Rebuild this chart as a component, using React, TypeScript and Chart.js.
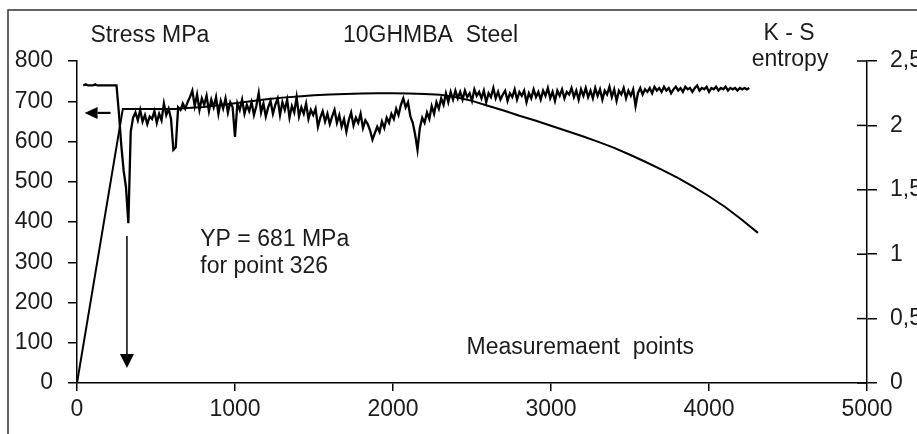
import React, { useEffect, useRef } from "react";
import { Chart, registerables } from "chart.js";

Chart.register(...registerables);

// ---- Data ----
// Stress curve (left axis, MPa) vs measurement point
const stressPoints = [0, 290, 620, 700, 800, 900, 1000, 1100, 1200, 1300, 1400, 1500, 1600, 1700, 1800, 1900, 2000, 2100, 2200, 2300, 2400, 2500, 2600, 2700, 2800, 2900, 3000, 3100, 3200, 3300, 3400, 3500, 3600, 3700, 3800, 3900, 4000, 4100, 4200, 4310];
const stressMPa = [0, 681, 681, 683, 686, 690, 695, 700, 705, 709, 712, 715, 717, 718, 719, 720, 720, 719, 718, 716, 710, 701, 689, 677, 664, 652, 639, 626, 613, 599, 584, 567, 549, 530, 510, 488, 464, 438, 408, 373];

// K-S entropy (right axis), sampled every 15 measurement points from point 40
const entropyStart = 40;
const entropyStep = 15;
const entropyValues = [
  2.31, 2.32, 2.31, 2.31, 2.31, 2.32, 2.31, 2.31, 2.31, 2.31,
  2.31, 2.31, 2.31, 2.31, 2.31, 2.10, 1.85, 1.65, 1.52, 1.24,
  1.95, 2.06, 2.10, 2.04, 2.12, 2.03, 2.08, 2.01, 2.07, 2.05,
  2.11, 2.02, 2.09, 2.04, 2.17, 2.08, 2.13, 2.05, 1.81, 1.83,
  2.14, 2.12, 2.17, 2.13, 2.18, 2.22, 2.27, 2.15, 2.24, 2.12,
  2.21, 2.16, 2.23, 2.11, 2.20, 2.14, 2.22, 2.09, 2.19, 2.13,
  2.21, 2.10, 2.18, 2.14, 1.91, 2.17, 2.12, 2.20, 2.09, 2.16,
  2.11, 2.18, 2.08, 2.15, 2.25, 2.10, 2.17, 2.07, 2.14, 2.19,
  2.09, 2.16, 2.21, 2.08, 2.18, 2.12, 2.20, 2.06, 2.15, 2.10,
  2.22, 2.07, 2.14, 2.09, 2.17, 2.05, 2.12, 2.08, 2.13, 1.99,
  2.06, 2.11, 2.03, 2.09, 2.01, 2.07, 2.12, 2.02, 2.08, 1.99,
  2.05, 1.95, 2.04, 2.10, 2.00, 2.06, 2.02, 2.09, 1.98, 2.04,
  2.01, 1.96, 1.89, 1.94, 1.99, 1.95, 2.03, 1.98, 2.06, 2.02,
  2.09, 2.05, 2.13, 2.08, 2.16, 2.21, 2.14, 2.18, 2.07, 2.02,
  1.93, 1.81, 1.98, 2.06, 2.02, 2.10, 2.05, 2.15, 2.09, 2.18,
  2.13, 2.21, 2.16, 2.25, 2.18, 2.26, 2.20, 2.27, 2.21, 2.26,
  2.20, 2.27, 2.22, 2.25, 2.19, 2.28, 2.23, 2.26, 2.21, 2.27,
  2.18, 2.25, 2.22, 2.29, 2.21, 2.26, 2.20, 2.24, 2.27, 2.19,
  2.25, 2.22, 2.28, 2.20, 2.26, 2.23, 2.27, 2.18, 2.25, 2.21,
  2.28, 2.22, 2.26, 2.20, 2.27, 2.23, 2.29, 2.21, 2.26, 2.19,
  2.27, 2.23, 2.28, 2.21, 2.26, 2.24, 2.29, 2.22, 2.27, 2.20,
  2.28, 2.23, 2.29, 2.22, 2.27, 2.21, 2.29, 2.23, 2.28, 2.20,
  2.27, 2.24, 2.30, 2.22, 2.28, 2.19, 2.27, 2.24, 2.29, 2.21,
  2.27, 2.23, 2.28, 2.15, 2.25, 2.29, 2.24, 2.28, 2.26, 2.29,
  2.25, 2.30, 2.27, 2.29, 2.26, 2.30, 2.27, 2.29, 2.25, 2.28,
  2.30, 2.27, 2.29, 2.26, 2.30, 2.28, 2.29, 2.26, 2.29, 2.31,
  2.27, 2.29, 2.28, 2.30, 2.26, 2.29, 2.28, 2.30, 2.27, 2.29,
  2.28, 2.30, 2.27, 2.29, 2.28, 2.29, 2.27, 2.29, 2.28, 2.29,
  2.28, 2.29,
];

// Axis ranges / ticks
const xMax = 5000;
const xStep = 1000;
const stressMax = 800;
const stressStep = 100;
const entropyMax = 2.5;
const entropyStepTick = 0.5;

// Annotation texts
const titleLeft = "Stress MPa";
const titleCenter = "10GHMBA  Steel";
const titleRight1 = "K - S";
const titleRight2 = "entropy";
const ypLine1 = "YP = 681 MPa";
const ypLine2 = "for point 326";
const xTitle = "Measuremaent  points";
const yieldPoint = 326;

const FONT = "'Liberation Sans', Arial, sans-serif";
const INK = "#1c1c1c";

export default function App() {
  const ref = useRef<HTMLCanvasElement>(null);

  useEffect(() => {
    if (!ref.current) return;
    const stressData = stressPoints.map((x, i) => ({ x, y: stressMPa[i] }));
    const entropyData = entropyValues.map((y, i) => ({ x: entropyStart + i * entropyStep, y }));

    const overlay = {
      id: "overlay",
      afterDraw(chart: any) {
        const { ctx, chartArea, scales } = chart;
        const sx = scales.x;
        const sy = scales.y;
        const sy1 = scales.y1;
        ctx.save();
        // outer frame
        ctx.strokeStyle = "#333";
        ctx.lineWidth = 1.5;
        ctx.beginPath();
        ctx.moveTo(chartArea.left - 69, chart.height);
        ctx.lineTo(chartArea.left - 69, chartArea.top - 51);
        ctx.lineTo(chart.width, chartArea.top - 51);
        ctx.stroke();

        // right axis ticks crossing inward
        ctx.strokeStyle = "#000";
        ctx.lineWidth = 1.5;
        sy1.ticks.forEach((t: any) => {
          const py = sy1.getPixelForValue(t.value);
          ctx.beginPath();
          ctx.moveTo(chartArea.right - 10, py);
          ctx.lineTo(chartArea.right, py);
          ctx.stroke();
        });

        // texts
        ctx.fillStyle = INK;
        ctx.font = `23px ${FONT}`;
        ctx.textBaseline = "middle";
        ctx.textAlign = "center";
        ctx.fillText(titleLeft, sx.getPixelForValue(461), chartArea.top - 25);
        ctx.fillText(titleCenter, sx.getPixelForValue(2238), chartArea.top - 25);
        ctx.fillText(titleRight1, sx.getPixelForValue(4507), chartArea.top - 27);
        ctx.fillText(titleRight2, sx.getPixelForValue(4513), chartArea.top - 1);
        ctx.textAlign = "left";
        ctx.fillText(ypLine1, sx.getPixelForValue(780), sy.getPixelForValue(355));
        ctx.fillText(ypLine2, sx.getPixelForValue(780), sy.getPixelForValue(290));
        ctx.fillText(xTitle, sx.getPixelForValue(2465), sy.getPixelForValue(87));

        // arrows
        const arrow = (x0: number, y0: number, x1: number, y1: number, hl: number, hw: number, lw: number) => {
          const ang = Math.atan2(y1 - y0, x1 - x0);
          const bx = x1 - hl * Math.cos(ang);
          const by = y1 - hl * Math.sin(ang);
          ctx.strokeStyle = "#000";
          ctx.lineWidth = lw;
          ctx.beginPath();
          ctx.moveTo(x0, y0);
          ctx.lineTo(bx, by);
          ctx.stroke();
          ctx.fillStyle = "#000";
          ctx.beginPath();
          ctx.moveTo(x1, y1);
          ctx.lineTo(bx + hw * Math.sin(ang), by - hw * Math.cos(ang));
          ctx.lineTo(bx - hw * Math.sin(ang), by + hw * Math.cos(ang));
          ctx.closePath();
          ctx.fill();
        };
        // left arrow pointing to the stress axis
        arrow(sx.getPixelForValue(212), sy.getPixelForValue(671), sx.getPixelForValue(48), sy.getPixelForValue(671), 13, 6, 2.2);
        // down arrow at the yield point
        const ax = sx.getPixelForValue(yieldPoint - 10);
        arrow(ax, sy.getPixelForValue(365), ax, sy.getPixelForValue(37), 14, 7, 1.5);
        ctx.restore();
      },
    };

    const tickFont = { family: FONT, size: 23 };

    const chart = new Chart(ref.current, {
      type: "line",
      data: {
        datasets: [
          {
            label: "Stress",
            data: stressData,
            yAxisID: "y",
            borderColor: "#000",
            borderWidth: 2,
            pointRadius: 0,
            tension: 0,
            fill: false,
          },
          {
            label: "K-S entropy",
            data: entropyData,
            yAxisID: "y1",
            borderColor: "#000",
            borderWidth: 2.3,
            pointRadius: 0,
            tension: 0,
            fill: false,
          },
        ],
      },
      options: {
        responsive: false,
        animation: false,
        devicePixelRatio: 1,
        layout: { padding: { left: 8, right: 0, top: 61, bottom: 0 } },
        plugins: { legend: { display: false }, tooltip: { enabled: false }, title: { display: false } },
        scales: {
          x: {
            type: "linear",
            min: 0,
            max: xMax,
            afterFit: (s: any) => { s.height = 51; },
            ticks: { stepSize: xStep, color: INK, font: tickFont, padding: 5, autoSkip: false, maxRotation: 0, callback: (v: any) => String(v) },
            grid: { drawOnChartArea: false, drawTicks: true, tickLength: 8, color: "#000", lineWidth: 1.5 },
            border: { display: true, color: "#000", width: 1.5 },
          },
          y: {
            position: "left",
            min: 0,
            max: stressMax,
            afterFit: (s: any) => { s.width = 69; },
            ticks: { stepSize: stressStep, color: INK, font: tickFont, padding: 15, autoSkip: false },
            grid: { drawOnChartArea: false, drawTicks: true, tickLength: 9, color: "#000", lineWidth: 1.5 },
            border: { display: true, color: "#000", width: 1.5 },
          },
          y1: {
            position: "right",
            min: 0,
            max: entropyMax,
            afterFit: (s: any) => { s.width = 50; },
            ticks: {
              stepSize: entropyStepTick,
              color: INK,
              font: tickFont,
              padding: 13,
              autoSkip: false,
              callback: (v: any) => String(v).replace(".", ","),
            },
            grid: { drawOnChartArea: false, drawTicks: true, tickLength: 10, color: "#000", lineWidth: 1.5 },
            border: { display: true, color: "#000", width: 1.5 },
          },
        },
      },
      plugins: [overlay],
    } as any);

    return () => chart.destroy();
  }, []);

  return (
    <div style={{ position: "fixed", left: 0, top: 0, width: 917, height: 434, overflow: "hidden", background: "#fff" }}>
      <canvas ref={ref} width={917} height={434} style={{ display: "block", width: 917, height: 434 }} />
    </div>
  );
}
